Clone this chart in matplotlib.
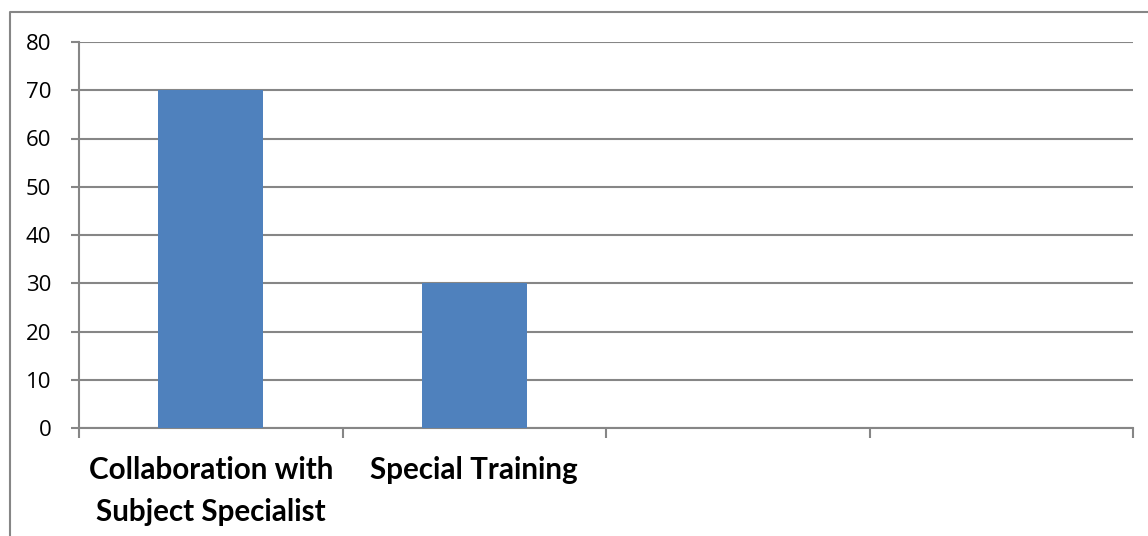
import numpy as np
import matplotlib
matplotlib.use("Agg")
import matplotlib.pyplot as plt
from matplotlib.lines import Line2D

categories = ["Collaboration with\nSubject Specialist", "Special Training", "", ""]
values = [70, 30, np.nan, np.nan]
y_ticks = [0, 10, 20, 30, 40, 50, 60, 70, 80]

bar_color = "#4F81BD"
line_color = "#868686"

W, H = 1148, 536
fig = plt.figure(figsize=(W / 100, H / 100), dpi=100)
ax = fig.add_axes([79 / W, 1 - 428 / H, (1133 - 79) / W, (428 - 42) / H])

x = np.arange(len(categories))
ax.bar(x, values, width=0.4, color=bar_color, zorder=3)

ax.set_xlim(-0.5, len(categories) - 0.5)
ax.set_ylim(0, 80)
ax.set_yticks(y_ticks)
ax.set_yticklabels([str(v) for v in y_ticks], fontsize=16, family="Open Sans", color="black")
ax.yaxis.grid(True, color=line_color, linewidth=1.5, zorder=0)

# category labels on major ticks (no marks), separators on minor ticks
ax.set_xticks(x)
ax.set_xticklabels(categories, fontsize=21.3, family="Lato", fontweight="bold",
                   linespacing=1.6, color="black")
ax.set_xticks(np.arange(len(categories) + 1) - 0.5, minor=True)
ax.tick_params(axis="x", which="major", length=0, pad=20)
ax.tick_params(axis="x", which="minor", length=7, width=1.5, color=line_color)
ax.tick_params(axis="y", length=6, width=1.5, color=line_color, pad=14)

for side in ("top", "right"):
    ax.spines[side].set_visible(False)
for side in ("left", "bottom"):
    ax.spines[side].set_color(line_color)
    ax.spines[side].set_linewidth(1.5)

# chart area border
fig.add_artist(Line2D([10 / W, 10 / W, 1.0], [0.0, 1 - 12 / H, 1 - 12 / H],
                      transform=fig.transFigure, color=line_color, linewidth=1.5))

fig.savefig("out.png", dpi=100, facecolor="white")
